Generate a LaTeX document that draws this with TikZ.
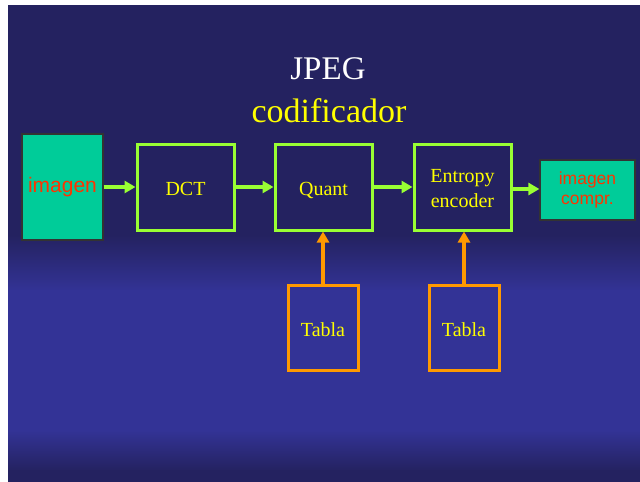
\documentclass[tikz,border=0pt]{standalone}
\usepackage{fontspec}
\setmainfont{Liberation Serif}
\newfontfamily\arialf{Liberation Sans}
\usetikzlibrary{arrows.meta}
\definecolor{bgdark}{RGB}{36,34,96}
\definecolor{bglight}{RGB}{51,51,150}
\definecolor{gline}{RGB}{153,255,51}
\definecolor{oline}{RGB}{255,153,0}
\definecolor{teal}{RGB}{0,204,153}
\definecolor{redtxt}{RGB}{255,51,0}
\definecolor{ytxt}{RGB}{255,255,0}
\tikzset{
  gbox/.style={draw=gline, line width=3pt, inner sep=0pt, minimum width=97pt, minimum height=86pt},
  obox/.style={draw=oline, line width=3pt, inner sep=0pt, minimum width=70pt, minimum height=85pt},
  btxt/.style={text=ytxt, font=\fontsize{20}{25}\selectfont, align=center, inner sep=0pt},
  tbox/.style={draw=black!80, line width=1.2pt, fill=teal, inner sep=0pt, text=redtxt, align=center},
  garrow/.style={draw=gline, line width=4.2pt, -{Triangle[length=11pt,width=12pt]}},
  oarrow/.style={draw=oline, line width=4.2pt, -{Triangle[length=11pt,width=12pt]}}
}
\begin{document}
\begin{tikzpicture}[x=1pt,y=-1pt]
\useasboundingbox (0,0) rectangle (640,482);
\fill[white] (0,0) rectangle (640,482);
% background gradient
\fill[bgdark] (8,5) rectangle (640,236);
\shade[top color=bgdark, bottom color=bglight] (8,235) rectangle (640,291);
\fill[bglight] (8,290) rectangle (640,431);
\shade[top color=bglight, bottom color=bgdark] (8,430) rectangle (640,471);
\fill[bgdark] (8,470) rectangle (640,482);
% title
\node[anchor=base, text=white, font=\fontsize{33}{36}\selectfont, inner sep=0pt] (t1) at (328,79) {JPEG};
\node[anchor=base, text=ytxt, font=\fontsize{34}{36}\selectfont, inner sep=0pt] (t2) at (329,122) {codificador};
% boxes
\node[tbox, minimum width=81pt, minimum height=106pt, font=\arialf\fontsize{21}{24}\selectfont] (img) at (62.5,187) {imagen};
\node[gbox] (dct) at (185.5,187) {};
\node[gbox] (quant) at (323.5,187) {};
\node[gbox] (ent) at (462.5,187) {};
\node[tbox, minimum width=95pt, minimum height=60pt, font=\arialf\fontsize{17.5}{20}\selectfont] (out) at (587.5,190) {imagen\\compr.};
\node[obox] (tab1) at (323,327.5) {};
\node[obox] (tab2) at (464,327.5) {};
% box texts
\node[btxt, anchor=base] (ldct) at (185.5,195) {DCT};
\node[btxt, anchor=base] (lquant) at (323.5,195) {Quant};
\node[btxt, anchor=base] (lent1) at (462.5,182) {Entropy};
\node[btxt, anchor=base] (lent2) at (462.5,207) {encoder};
\node[btxt, anchor=base] (ltab1) at (323,336) {Tabla};
\node[btxt, anchor=base] (ltab2) at (464,336) {Tabla};
% arrows
\draw[garrow] (img.east) -- (dct.west);
\draw[garrow] (dct.east) -- (quant.west);
\draw[garrow] (quant.east) -- (ent.west);
\draw[garrow] ([yshift=-2pt]ent.east) -- ([yshift=-2pt]ent.east -| out.west);
\draw[oarrow] (tab1.north) -- (tab1.north |- quant.south);
\draw[oarrow] (tab2.north) -- (tab2.north |- ent.south);
\end{tikzpicture}
\end{document}
